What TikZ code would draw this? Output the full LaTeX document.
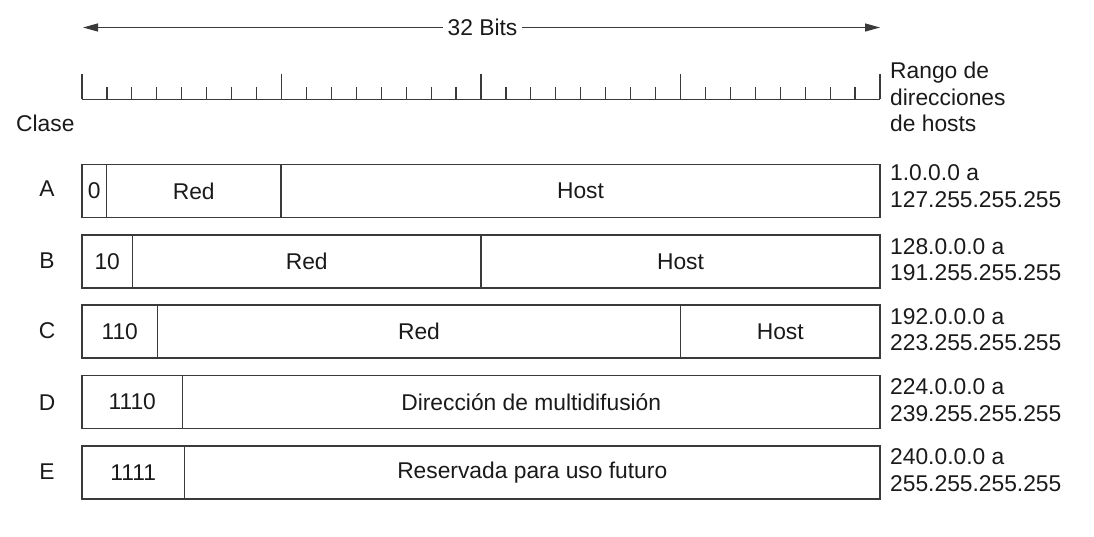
\documentclass[tikz,border=0pt]{standalone}
\usepackage{fontspec}
\setmainfont{Liberation Sans}
\usetikzlibrary{arrows.meta}
\definecolor{ink}{HTML}{3A3A3A}
\definecolor{txt}{HTML}{1A1A1A}
\tikzset{
  cell/.style={draw=ink, line width=1.2pt, rectangle, minimum height=53pt, inner sep=0pt, outer sep=0pt, anchor=north west, text=txt},
  lbl/.style={text=txt, inner sep=0pt},
  rng/.style={text=txt, inner sep=0pt, anchor=west, align=left},
  rule/.style={draw=ink, line width=1.2pt},
  tip/.style={Triangle[length=15pt,width=8pt]},
}
\begin{document}
\begin{tikzpicture}[x=1pt, y=-1pt, font=\fontsize{22.8}{26.5}\selectfont]
\useasboundingbox (0,0) rectangle (1094,537);
% arrow 32 bits
\coordinate (al) at (83,27.5);
\coordinate (ar) at (880,27.5);
\draw[rule, {Triangle[length=15pt,width=8pt]}-{Triangle[length=15pt,width=8pt]}] (al) -- node[lbl, fill=white, inner xsep=5pt, pos=0.5, xshift=1pt] (bits) {32 Bits} (ar);
% ruler
\draw[rule] (82,99.3) -- (880,99.3);
\foreach \i in {0,8,16,24,32}{
  \draw[rule] ({82+\i*24.9375},74) -- ({82+\i*24.9375},99.3);
}
\foreach \i in {1,...,7,9,10,...,15,17,18,...,23,25,26,...,31}{
  \draw[rule] ({82+\i*24.9375},87) -- ({82+\i*24.9375},99.3);
}
% labels
\node[lbl, anchor=west] (clase) at (16,123) {Clase};
\node[rng] (rango) at (890,97) {Rango de\\direcciones\\de hosts};
% Class A
\node[lbl] (ca) at (47,189) {A};
\node[cell, minimum width=24.5pt] (a1) at (82,164.5) {0};
\node[cell, minimum width=174.5pt] (a2) at (a1.north east) {Red};
\node[cell, minimum width=599pt] (a3) at (a2.north east) {Host};
\node[rng] (ra) at (890,186) {1.0.0.0 a\\127.255.255.255};
% Class B
\node[lbl] (cb) at (47,261) {B};
\node[cell, minimum width=50.5pt] (b1) at (82,235) {10};
\node[cell, minimum width=348.5pt] (b2) at (b1.north east) {Red};
\node[cell, minimum width=399pt] (b3) at (b2.north east) {Host};
\node[rng] (rb) at (890,259.5) {128.0.0.0 a\\191.255.255.255};
% Class C
\node[lbl] (cc) at (47,331) {C};
\node[cell, minimum width=75.5pt] (c1) at (82,305) {110};
\node[cell, minimum width=523pt] (c2) at (c1.north east) {Red};
\node[cell, minimum width=199.5pt] (c3) at (c2.north east) {Host};
\node[rng] (rc) at (890,329.5) {192.0.0.0 a\\223.255.255.255};
% Class D
\node[lbl] (cd) at (47,403) {D};
\node[cell, minimum width=100.5pt] (d1) at (82,375.5) {1110};
\node[cell, minimum width=697.5pt] (d2) at (d1.north east) {Dirección de multidifusión};
\node[rng] (rd) at (890,400) {224.0.0.0 a\\239.255.255.255};
% Class E
\node[lbl] (ce) at (47,472) {E};
\node[cell, minimum width=102.5pt] (e1) at (82,446) {1111};
\node[cell, minimum width=695.5pt] (e2) at (e1.north east) {Reservada para uso futuro};
\node[rng] (re) at (890,470) {240.0.0.0 a\\255.255.255.255};
\end{tikzpicture}
\end{document}
